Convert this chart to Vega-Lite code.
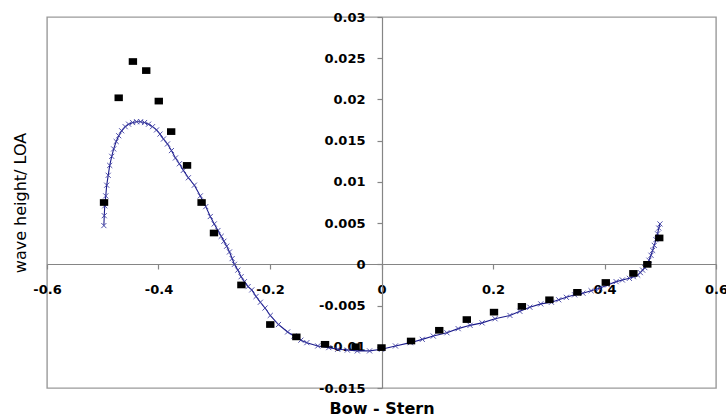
{
  "$schema": "https://vega.github.io/schema/vega-lite/v6.json",
  "width": 669,
  "height": 371,
  "autosize": "none",
  "padding": {"left": 47, "top": 17, "right": 10, "bottom": 28},
  "background": "white",
  "config": {
    "view": {"stroke": "#9a9a9a", "strokeWidth": 1.4},
    "axis": {
      "grid": false,
      "domainColor": "#858585",
      "domainWidth": 1.2,
      "tickColor": "#858585",
      "tickWidth": 1.2,
      "tickSize": 5,
      "labelFont": "DejaVu Sans",
      "labelFontWeight": "bold",
      "labelFontSize": 13,
      "labelColor": "#000000",
      "labelOverlap": false,
      "labelFlush": false,
      "labelBound": false,
      "titleColor": "#000000"
    }
  },
  "datasets": {
    "calc": [
      {"x": -0.498, "y": 0.0047}, {"x": -0.4973, "y": 0.0059}, {"x": -0.4964, "y": 0.0071}, {"x": -0.4946, "y": 0.0083},
      {"x": -0.4929, "y": 0.0096}, {"x": -0.4902, "y": 0.0108}, {"x": -0.4875, "y": 0.012}, {"x": -0.4839, "y": 0.0131},
      {"x": -0.4804, "y": 0.014}, {"x": -0.4759, "y": 0.0149}, {"x": -0.4714, "y": 0.0156}, {"x": -0.4661, "y": 0.0162},
      {"x": -0.4598, "y": 0.0167}, {"x": -0.4536, "y": 0.017}, {"x": -0.4464, "y": 0.0172}, {"x": -0.4393, "y": 0.0173},
      {"x": -0.4321, "y": 0.0173}, {"x": -0.425, "y": 0.0172}, {"x": -0.4179, "y": 0.017}, {"x": -0.4107, "y": 0.0167},
      {"x": -0.4036, "y": 0.0163}, {"x": -0.3973, "y": 0.0158}, {"x": -0.3911, "y": 0.0152}, {"x": -0.3839, "y": 0.0146},
      {"x": -0.3768, "y": 0.0138}, {"x": -0.3696, "y": 0.0129}, {"x": -0.3625, "y": 0.0122}, {"x": -0.3554, "y": 0.0114},
      {"x": -0.3464, "y": 0.0105}, {"x": -0.3357, "y": 0.0096}, {"x": -0.325, "y": 0.0083}, {"x": -0.3152, "y": 0.007},
      {"x": -0.3071, "y": 0.0058}, {"x": -0.3, "y": 0.0049}, {"x": -0.2934, "y": 0.0041}, {"x": -0.2875, "y": 0.0034},
      {"x": -0.2827, "y": 0.0028}, {"x": -0.2777, "y": 0.0022}, {"x": -0.2727, "y": 0.0015}, {"x": -0.2679, "y": 0.0007},
      {"x": -0.2638, "y": 0.0}, {"x": -0.2577, "y": -0.0007}, {"x": -0.2518, "y": -0.0015}, {"x": -0.2459, "y": -0.0021},
      {"x": -0.2393, "y": -0.0027}, {"x": -0.2327, "y": -0.0031}, {"x": -0.225, "y": -0.0039}, {"x": -0.2173, "y": -0.0046},
      {"x": -0.2089, "y": -0.0053}, {"x": -0.1995, "y": -0.0062}, {"x": -0.1848, "y": -0.0073}, {"x": -0.1684, "y": -0.0082},
      {"x": -0.1571, "y": -0.0087}, {"x": -0.1446, "y": -0.0092}, {"x": -0.1339, "y": -0.0095}, {"x": -0.1143, "y": -0.0099},
      {"x": -0.0946, "y": -0.0101}, {"x": -0.0786, "y": -0.0103}, {"x": -0.0613, "y": -0.0104}, {"x": -0.0434, "y": -0.0105},
      {"x": -0.0214, "y": -0.0105}, {"x": 0.0, "y": -0.0103}, {"x": 0.025, "y": -0.0099}, {"x": 0.0518, "y": -0.0095},
      {"x": 0.0732, "y": -0.0091}, {"x": 0.0929, "y": -0.0087}, {"x": 0.1173, "y": -0.0083}, {"x": 0.1375, "y": -0.0078},
      {"x": 0.1589, "y": -0.0074}, {"x": 0.1804, "y": -0.0071}, {"x": 0.2036, "y": -0.0066}, {"x": 0.2304, "y": -0.0062},
      {"x": 0.2482, "y": -0.0057}, {"x": 0.2661, "y": -0.0052}, {"x": 0.2857, "y": -0.0048}, {"x": 0.3048, "y": -0.0046},
      {"x": 0.3179, "y": -0.0043}, {"x": 0.3316, "y": -0.004}, {"x": 0.3464, "y": -0.0037}, {"x": 0.3613, "y": -0.0035},
      {"x": 0.3759, "y": -0.0032}, {"x": 0.3911, "y": -0.0029}, {"x": 0.4054, "y": -0.0025}, {"x": 0.4209, "y": -0.0021},
      {"x": 0.4321, "y": -0.0019}, {"x": 0.4446, "y": -0.0017}, {"x": 0.4518, "y": -0.0015}, {"x": 0.4595, "y": -0.0013},
      {"x": 0.4643, "y": -0.001}, {"x": 0.4684, "y": -0.0007}, {"x": 0.4723, "y": -0.0004}, {"x": 0.4762, "y": 0.0},
      {"x": 0.4798, "y": 0.0005}, {"x": 0.4834, "y": 0.0011}, {"x": 0.4863, "y": 0.0017}, {"x": 0.4893, "y": 0.0023},
      {"x": 0.4923, "y": 0.003}, {"x": 0.4952, "y": 0.0037}, {"x": 0.4973, "y": 0.0044}, {"x": 0.4995, "y": 0.0049}
    ],
    "exp": [
      {"x": -0.4977, "y": 0.0075}, {"x": -0.4714, "y": 0.0202}, {"x": -0.4459, "y": 0.0246}, {"x": -0.422, "y": 0.0235},
      {"x": -0.3995, "y": 0.0198}, {"x": -0.3773, "y": 0.0161}, {"x": -0.3488, "y": 0.012}, {"x": -0.3227, "y": 0.0075},
      {"x": -0.3005, "y": 0.0038}, {"x": -0.2513, "y": -0.0025}, {"x": -0.1995, "y": -0.0073}, {"x": -0.1527, "y": -0.0088},
      {"x": -0.1013, "y": -0.0097}, {"x": -0.0464, "y": -0.01}, {"x": 0.0, "y": -0.0101}, {"x": 0.053, "y": -0.0093},
      {"x": 0.1036, "y": -0.008}, {"x": 0.153, "y": -0.0067}, {"x": 0.2018, "y": -0.0058}, {"x": 0.2518, "y": -0.0051},
      {"x": 0.3012, "y": -0.0043}, {"x": 0.3513, "y": -0.0034}, {"x": 0.4023, "y": -0.0022}, {"x": 0.4518, "y": -0.0011},
      {"x": 0.4768, "y": 0.0}, {"x": 0.4982, "y": 0.0032}
    ]
  },
  "encoding": {
    "x": {
      "field": "x",
      "type": "quantitative",
      "scale": {"domain": [-0.6, 0.6], "nice": false, "zero": false},
      "axis": {
        "orient": "bottom",
        "offset": -124,
        "values": [-0.6, -0.4, -0.2, 0, 0.2, 0.4, 0.6],
        "labelExpr": "datum.value < 0 ? '-' + format(-datum.value, '~g') : format(datum.value, '~g')",
        "labelPadding": 14,
        "title": "Bow - Stern",
        "titleFont": "DejaVu Sans",
        "titleFontWeight": "bold",
        "titleFontSize": 16,
        "titleBaseline": "middle",
        "titleX": 334.5,
        "titleY": 144
      }
    },
    "y": {
      "field": "y",
      "type": "quantitative",
      "scale": {"domain": [-0.015, 0.03], "nice": false, "zero": false},
      "axis": {
        "orient": "left",
        "offset": -335,
        "values": [-0.015, -0.01, -0.005, 0, 0.005, 0.01, 0.015, 0.02, 0.025, 0.03],
        "labelExpr": "datum.value < 0 ? '-' + format(-datum.value, '~g') : format(datum.value, '~g')",
        "labelPadding": 12,
        "title": "wave height/ LOA",
        "titleFont": "DejaVu Sans",
        "titleFontWeight": "normal",
        "titleFontSize": 16,
        "titleAngle": -90,
        "titleBaseline": "middle",
        "titleAlign": "center",
        "titleX": -362,
        "titleY": 185.5
      }
    }
  },
  "layer": [
    {
      "data": {"name": "calc"},
      "mark": {"type": "line", "color": "#1c1c8c", "strokeWidth": 1.1}
    },
    {
      "data": {"name": "calc"},
      "mark": {
        "type": "point",
        "shape": "M-1,-1L1,1M1,-1L-1,1",
        "filled": false,
        "size": 26,
        "strokeWidth": 1,
        "color": "#4040a4",
        "opacity": 0.9
      }
    },
    {
      "data": {"name": "exp"},
      "mark": {
        "type": "point",
        "shape": "M-1,-0.8H1V0.8H-1Z",
        "filled": true,
        "size": 70,
        "color": "#000000",
        "opacity": 1
      }
    }
  ]
}
